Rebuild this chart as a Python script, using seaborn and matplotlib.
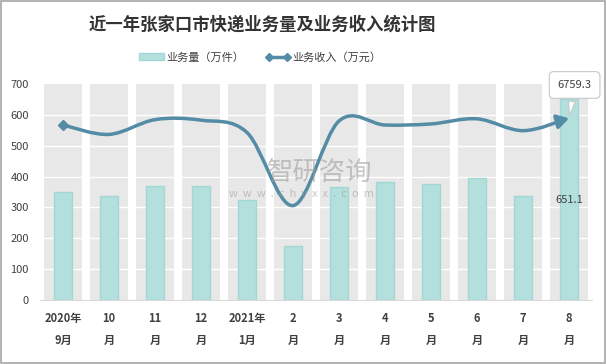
import matplotlib
matplotlib.use("Agg")
import matplotlib.pyplot as plt
import numpy as np
import seaborn as sns
from matplotlib.lines import Line2D
from matplotlib.patches import FancyArrowPatch, Patch, Rectangle
from matplotlib.path import Path

# data
months = ["2020年\n9月", "10\n月", "11\n月", "12\n月", "2021年\n1月", "2\n月",
          "3\n月", "4\n月", "5\n月", "6\n月", "7\n月", "8\n月"]
volume = [350, 337, 369, 369, 324, 174, 365, 382, 376, 396, 337, 651.1]      # 万件
revenue = [6510, 6160, 6710, 6690, 6230, 3510, 6660, 6510, 6550, 6740, 6300, 6759.3]  # 万元
y_ticks = [0, 100, 200, 300, 400, 500, 600, 700]

bar_color = "#b3dfdc"
bar_edge = "#a3d7d3"
line_color = "#548ca5"
text_color = "#404040"

sns.set_style("white")
plt.rcParams["font.family"] = ["Noto Sans CJK SC", "DejaVu Sans"]

fig = plt.figure(figsize=(6.06, 3.64), dpi=100)
ax = fig.add_axes([0.066, 0.176, 0.911, 0.593])

n = len(months)
# grey column bands behind each category
for i in range(n):
    ax.axvspan(i - 0.413, i + 0.413, color="#e8e8e8", lw=0, zorder=0)
for yv in y_ticks[1:-1]:
    ax.axhline(yv, color="white", lw=1, zorder=0.5)

sns.barplot(x=months, y=volume, color=bar_color, width=0.41, edgecolor=bar_edge,
            linewidth=1, saturation=1, ax=ax, zorder=2)

ax.set_xlim(-0.5, n - 0.5)
ax.set_ylim(0, 700)
ax.set_yticks(y_ticks)
ax.set_xticks(range(n))
ax.set_xticklabels(months, fontsize=8, fontweight="bold", color=text_color, linespacing=1.9)
ax.set_xticks(np.arange(-0.5, n), minor=True)
ax.tick_params(axis="x", which="major", length=0, pad=9)
ax.tick_params(axis="x", which="minor", length=4, color="#d9d9d9", width=1)
ax.tick_params(axis="y", length=0, pad=8, labelsize=8, labelcolor=text_color)
for s in ["top", "right", "left"]:
    ax.spines[s].set_visible(False)
ax.spines["bottom"].set_color("#d9d9d9")
ax.set_xlabel("")
ax.set_ylabel("")

ax.text(n - 1, volume[-1] / 2, f"{volume[-1]:.1f}", ha="center", va="center",
        fontsize=8, color=text_color, zorder=3)

# revenue on a hidden secondary axis, smoothed like the original
ax2 = ax.twinx()
ax2.set_ylim(0, 8033)
ax2.set_yticks([])
for s in ax2.spines.values():
    s.set_visible(False)

pts = np.column_stack([np.arange(n), revenue]).astype(float)
verts = [pts[0]]
codes = [Path.MOVETO]
for i in range(n - 1):
    p0 = pts[max(i - 1, 0)]
    p1 = pts[i]
    p2 = pts[i + 1]
    p3 = pts[min(i + 2, n - 1)]
    verts += [p1 + (p2 - p0) / 6, p2 - (p3 - p1) / 6, p2]
    codes += [Path.CURVE4] * 3
curve = FancyArrowPatch(path=Path(verts, codes), arrowstyle="-|>,head_length=0.5,head_width=0.3",
                        mutation_scale=14, color=line_color, lw=2.5, zorder=4)
ax2.add_patch(curve)
ax2.plot([0], [revenue[0]], marker="D", ms=5, color=line_color, zorder=5)

ax2.annotate(f"{revenue[-1]:.1f}", xy=(n - 1, revenue[-1]), xytext=(4, 24),
             textcoords="offset points", ha="center", va="center", fontsize=8,
             color=text_color, annotation_clip=False, zorder=6,
             bbox=dict(boxstyle="round,pad=0.75,rounding_size=0.4", fc="white", ec="#c8c8c8", lw=0.8),
             arrowprops=dict(arrowstyle="wedge,tail_width=0.6", fc="white", ec="#c8c8c8", lw=0.8))

# title and legend
fig.text(0.433, 0.933, "近一年张家口市快递业务量及业务收入统计图", ha="center", va="center",
         fontsize=12.5, fontweight="bold", color="#333333")
handles = [Patch(facecolor=bar_color, edgecolor=bar_edge),
           Line2D([0], [0], color=line_color, lw=2.5, marker="D", ms=4)]
fig.legend(handles, ["业务量（万件）", "业务收入（万元）"], loc="center",
           bbox_to_anchor=(0.43, 0.843), ncol=2, frameon=False, fontsize=8,
           labelcolor=text_color, handlelength=2.2, handletextpad=0.2, columnspacing=2.0,
           numpoints=2)

# watermark
fig.text(0.528, 0.527, "智研咨询", ha="center", va="center", fontsize=19,
         color="#9a9a9a", alpha=0.55, zorder=10)
fig.text(0.498, 0.467, "w  w  w  .  c  h  y  x  x  .  c  o  m", ha="center", va="center",
         fontsize=8, color="#9a9a9a", alpha=0.55, zorder=10)

fig.add_artist(Rectangle((0.001, 0.002), 0.997, 0.996, transform=fig.transFigure,
                         fill=False, ec="#a6a6a6", lw=1.2))

fig.savefig("out.png", dpi=100)
